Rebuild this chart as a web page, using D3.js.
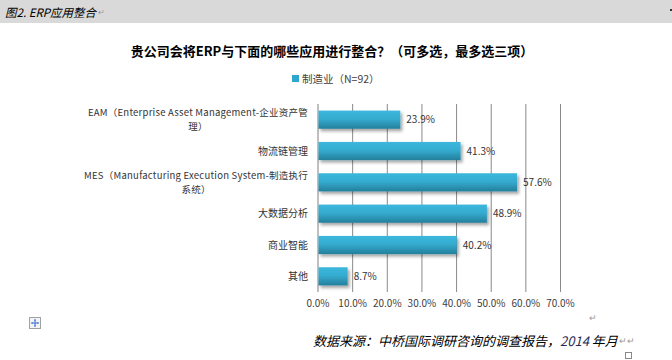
<!DOCTYPE html>
<html><head><meta charset="utf-8">
<script src="https://cdn.jsdelivr.net/npm/d3@7"></script>
<style>
html,body{margin:0;padding:0;background:#fff;}
svg{display:block;}
</style></head>
<body>
<svg id="c" width="672" height="360"></svg>
<script>
const categories = [
  "EAM（Enterprise Asset Management-企业资产管\n理）",
  "物流链管理",
  "MES（Manufacturing Execution System-制造执行\n系统）",
  "大数据分析",
  "商业智能",
  "其他"
];
const values = [0.239, 0.413, 0.576, 0.489, 0.402, 0.087];
const xTicks = [0, 0.1, 0.2, 0.3, 0.4, 0.5, 0.6, 0.7];
const seriesName = "制造业（N=92）";
const chartTitle = "贵公司会将ERP与下面的哪些应用进行整合？（可多选，最多选三项）";
const figCaption = "图2. ERP应用整合";
const sourceText = "数据来源：中桥国际调研咨询的调查报告，";
const sourceYear = "2014";
const sourceTail = " 年月";

const CJK = "'Noto Sans CJK SC','Noto Sans',sans-serif";
const svg = d3.select("#c");

// defs
const defs = svg.append("defs");
const g = defs.append("linearGradient").attr("id","bg").attr("x1",0).attr("y1",0).attr("x2",0).attr("y2",1);
g.append("stop").attr("offset","0%").attr("stop-color","#3cb7dd");
g.append("stop").attr("offset","45%").attr("stop-color","#35acd0");
g.append("stop").attr("offset","100%").attr("stop-color","#247f9c");
const f = defs.append("filter").attr("id","sh").attr("x","-10%").attr("y","-20%").attr("width","130%").attr("height","160%");
f.append("feDropShadow").attr("dx",2).attr("dy",2.5).attr("stdDeviation",1.6).attr("flood-color","#000").attr("flood-opacity",0.35);

// header band
svg.append("rect").attr("x",0).attr("y",0).attr("width",672).attr("height",23).attr("fill","#d9d9d9");
const cap = svg.append("text").attr("x",5).attr("y",16.5).attr("font-family",CJK).attr("font-size",11.5)
  .attr("font-style","italic").attr("fill","#000").text(figCaption);
const cw = cap.node().getComputedTextLength();
svg.append("text").attr("x",5+cw+2).attr("y",15).attr("font-family",CJK).attr("font-size",8).attr("fill","#999").text("↵");
svg.append("rect").attr("x",670).attr("y",9).attr("width",2).attr("height",2).attr("fill","#333");

// title
svg.append("text").attr("x",332).attr("y",56).attr("text-anchor","middle").attr("font-family",CJK)
  .attr("font-size",13).attr("font-weight","bold").attr("fill","#000").text(chartTitle);

// legend
svg.append("rect").attr("x",292).attr("y",75).attr("width",7).attr("height",7).attr("fill","#2fa6cc");
svg.append("text").attr("x",302).attr("y",82.5).attr("font-family",CJK).attr("font-size",10.5).attr("fill","#404040").text(seriesName);

// scales
const x = d3.scaleLinear().domain([0,0.7]).range([317.5,560]);
const y = d3.scaleBand().domain(categories).range([104,292]).paddingInner(0.42).paddingOuter(0.21);

// gridlines
svg.append("g").selectAll("line").data(xTicks).join("line")
  .attr("x1",d=>x(d)+0.5).attr("x2",d=>x(d)+0.5).attr("y1",104).attr("y2",292)
  .attr("stroke",d=>d===0?"#808080":"#8a8a8a").attr("stroke-width",1);

// x axis tick labels
const xAxis = d3.axisBottom(x).tickValues(xTicks).tickFormat(d3.format(".1%")).tickSize(0).tickPadding(8);
const xa = svg.append("g").attr("transform","translate(0,292)").call(xAxis);
xa.select(".domain").remove();
xa.selectAll("text").attr("font-family",CJK).attr("font-size",10).attr("fill","#404040");

// bars
svg.append("g").selectAll("rect").data(values).join("rect")
  .attr("x",x(0)+1).attr("y",(d,i)=>y(categories[i]))
  .attr("width",d=>x(d)-x(0)-1).attr("height",y.bandwidth())
  .attr("fill","url(#bg)").attr("filter","url(#sh)");

// value labels
svg.append("g").selectAll("text").data(values).join("text")
  .attr("x",d=>x(d)+6).attr("y",(d,i)=>y(categories[i])+y.bandwidth()/2+3.5)
  .attr("font-family",CJK).attr("font-size",10).attr("fill","#333")
  .text(d=>d3.format(".1%")(d));

// category labels (multi-line, centered block, right edge aligned)
const labG = svg.append("g");
categories.forEach((c,i)=>{
  const lines = c.split("\n");
  const cy = y(c)+y.bandwidth()/2;
  const lh = 14;
  const fs = lines.length>1 ? 9.5 : 10;
  const tmp = [];
  lines.forEach((ln,j)=>{
    tmp.push(labG.append("text").attr("font-family",CJK).attr("font-size",fs).attr("fill","#333")
      .attr("letter-spacing", lines.length>1 ? 0.25 : 0)
      .attr("y",cy+3.5+(j-(lines.length-1)/2)*lh).text(ln));
  });
  const ws = tmp.map(s=>s.node().getComputedTextLength());
  const maxW = Math.max(...ws);
  const right = 308;
  const center = right - maxW/2;
  tmp.forEach(s=>{ s.attr("x",center).attr("text-anchor","middle"); });
});

// move icon
const mi = svg.append("g").attr("transform","translate(29,317)");
mi.append("rect").attr("x",0.5).attr("y",0.5).attr("width",11).attr("height",11).attr("fill","#f4f4f4").attr("stroke","#a0a0a0");
mi.append("path").attr("d","M6 2.5V9.5M2.5 6H9.5").attr("stroke","#3a6fd0").attr("stroke-width",1);
mi.append("path").attr("d","M6 2L4.8 3.5H7.2ZM6 10L4.8 8.5H7.2ZM2 6L3.5 4.8V7.2ZM10 6L8.5 4.8V7.2Z").attr("fill","#3a6fd0");

// small return marks
svg.append("text").attr("x",589).attr("y",321).attr("font-family",CJK).attr("font-size",9).attr("fill","#999").text("↵");

// source
const src = svg.append("text").attr("x",313).attr("y",346).attr("font-family",CJK).attr("font-size",13)
  .attr("font-style","italic").attr("fill","#000");
src.append("tspan").text(sourceText);
src.append("tspan").attr("fill","#1f2d5a").text(sourceYear);
src.append("tspan").text(sourceTail);
const sw = src.node().getComputedTextLength();
svg.append("text").attr("x",313+sw+1).attr("y",344).attr("font-family",CJK).attr("font-size",9).attr("fill","#999").text("↵↵");
svg.append("rect").attr("x",625.5).attr("y",352.5).attr("width",6).attr("height",6).attr("fill","none").attr("stroke","#888");
</script>
</body></html>
